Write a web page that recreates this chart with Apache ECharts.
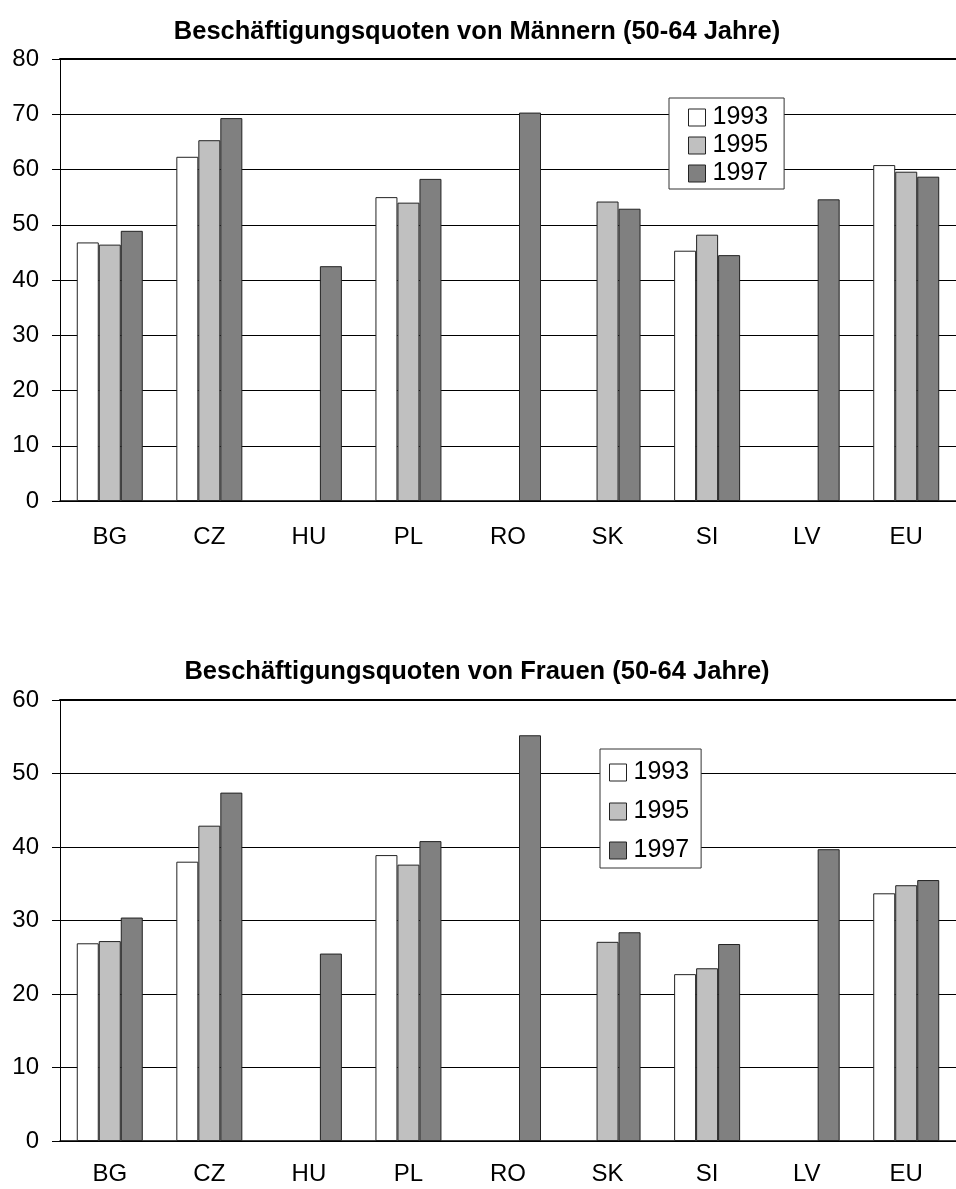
<!DOCTYPE html>
<html>
<head>
<meta charset="utf-8">
<script src="https://cdn.jsdelivr.net/npm/echarts@6/dist/echarts.min.js"></script>
<style>
  html, body { margin: 0; padding: 0; background: #fff; }
  #chart { width: 956px; height: 1189px; }
</style>
</head>
<body>
<div id="chart"></div>
<script>
const countries = ['BG', 'CZ', 'HU', 'PL', 'RO', 'SK', 'SI', 'LV', 'EU']
const years = ['1993', '1995', '1997']

// Männer (50-64 Jahre)
const men1993 = [46.8, 62.3, null, 55.0, null, null, 45.3, null, 60.8]
const men1995 = [46.4, 65.3, null, 54.0, null, 54.2, 48.2, null, 59.6]
const men1997 = [48.9, 69.3, 42.5, 58.3, 70.3, 52.9, 44.5, 54.6, 58.7]

// Frauen (50-64 Jahre)
const women1993 = [26.9, 38.0, null, 38.9, null, null, 22.7, null, 33.7]
const women1995 = [27.2, 42.9, null, 37.6, null, 27.1, 23.5, null, 34.8]
const women1997 = [30.4, 47.4, 25.5, 40.8, 55.2, 28.4, 26.8, 39.7, 35.5]

const COLORS = ['#ffffff', '#c0c0c0', '#808080']
const FONT = 'Liberation Sans, Arial, sans-serif'

const chart = echarts.init(document.getElementById('chart'), null, { renderer: 'canvas' })

const bar = (name, data, i, grid) => ({
  name, type: 'bar', data,
  xAxisIndex: grid, yAxisIndex: grid,
  barWidth: 22, barGap: '0%',
  itemStyle: { color: COLORS[i], borderColor: '#222', borderWidth: 1 },
  emphasis: { disabled: true },
})

const catAxis = (grid, margin) => ({
  type: 'category', gridIndex: grid, data: countries,
  axisLine: { lineStyle: { color: '#000', width: 1.5 } },
  axisTick: { show: false },
  axisLabel: { color: '#000', fontSize: 24, fontFamily: FONT, margin },
})

// thicker frame line along the top of each plot
const topLine = (grid) => ({
  type: 'category', gridIndex: grid, position: 'top', data: countries,
  axisLine: { lineStyle: { color: '#000', width: 2 } },
  axisTick: { show: false }, axisLabel: { show: false },
})

const valAxis = (grid, max) => ({
  type: 'value', gridIndex: grid, min: 0, max, interval: 10,
  axisLine: { show: true, lineStyle: { color: '#000', width: 1 } },
  axisTick: { show: true, inside: false, length: 8, lineStyle: { color: '#000' } },
  axisLabel: { color: '#000', fontSize: 24, fontFamily: FONT, margin: 21 },
  splitLine: { show: true, lineStyle: { color: '#000', width: 1 } },
})

const legend = (opts) => ({
  orient: 'vertical',
  data: years.map((y, i) => ({ name: y, itemStyle: { color: COLORS[i], borderColor: '#222', borderWidth: 1 } })),
  icon: 'rect', itemWidth: 17, itemHeight: 17,
  backgroundColor: '#fff', borderColor: '#333', borderWidth: 1,
  textStyle: { color: '#000', fontSize: 25, fontFamily: FONT, lineHeight: 25, padding: [0, 0, 0, 2] },
  selectedMode: false,
  ...opts,
})

chart.setOption({
  animation: false,
  title: [
    { text: 'Beschäftigungsquoten von Männern (50-64 Jahre)', left: 472, top: 14, textAlign: 'center',
      textStyle: { fontSize: 25.5, fontWeight: 'bold', fontFamily: FONT, color: '#000' } },
    { text: 'Beschäftigungsquoten von Frauen (50-64 Jahre)', left: 472, top: 654, textAlign: 'center',
      textStyle: { fontSize: 25.5, fontWeight: 'bold', fontFamily: FONT, color: '#000' } },
  ],
  legend: [
    legend({ left: 669, top: 98, itemGap: 3, padding: [7, 16, 3, 19] }),
    legend({ left: 600, top: 749, itemGap: 14, padding: [11, 12, 5, 9] }),
  ],
  grid: [
    { left: 60, top: 59, width: 905, height: 442 },
    { left: 60, top: 700, width: 905, height: 441 },
  ],
  xAxis: [catAxis(0, 24), catAxis(1, 21), topLine(0), topLine(1)],
  yAxis: [valAxis(0, 80), valAxis(1, 60)],
  series: [
    bar('1993', men1993, 0, 0),
    bar('1995', men1995, 1, 0),
    bar('1997', men1997, 2, 0),
    bar('1993', women1993, 0, 1),
    bar('1995', women1995, 1, 1),
    bar('1997', women1997, 2, 1),
  ],
})
</script>
</body>
</html>
